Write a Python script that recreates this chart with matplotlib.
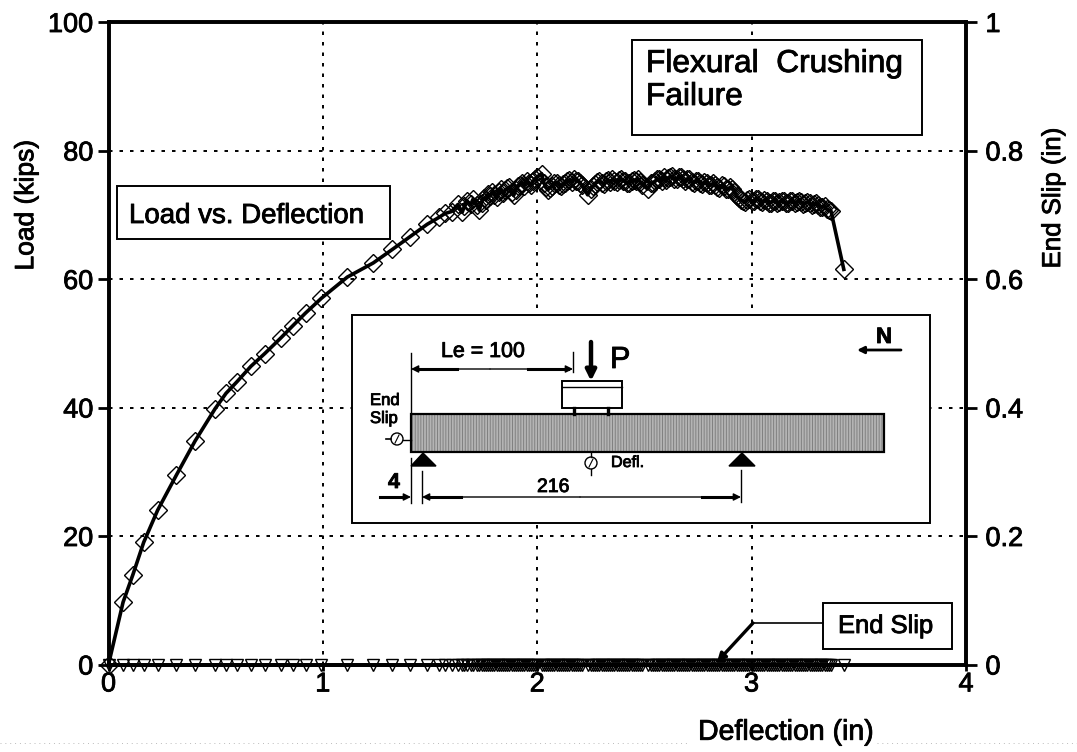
import matplotlib
matplotlib.use("Agg")
import matplotlib.pyplot as plt
import matplotlib.patheffects as pe
from matplotlib.patches import Rectangle, Circle, Polygon
from matplotlib.text import Text

plt.rcParams["font.family"] = ["Liberation Sans", "DejaVu Sans"]
plt.rcParams["hatch.linewidth"] = 0.7

# values
deflection = [0, .068, .114, .164, .229, .317, .404, .497, .548, .599, .664, .729, .803, .859, .919, .993,
              1.114, 1.235, 1.324, 1.407, 1.486, 1.542, 1.57, 1.60, 1.63, 1.65, 1.66, 1.67, 1.69, 1.70, 1.72,
              1.73, 1.74, 1.75, 1.76, 1.77, 1.78, 1.79, 1.80, 1.81, 1.82, 1.83, 1.84, 1.85, 1.86, 1.87, 1.88,
              1.89, 1.90, 1.91, 1.92, 1.93, 1.94, 1.95, 1.96, 1.97, 1.98, 1.99, 2.00, 2.02, 2.03, 2.04, 2.05,
              2.06, 2.07, 2.08, 2.09, 2.10, 2.11, 2.12, 2.13, 2.14, 2.15, 2.16, 2.17, 2.18, 2.19, 2.20, 2.21,
              2.235, 2.25, 2.26, 2.27, 2.28, 2.29, 2.30, 2.31, 2.32, 2.33, 2.34, 2.35, 2.36, 2.37, 2.38, 2.39,
              2.40, 2.41, 2.42, 2.43, 2.44, 2.45, 2.46, 2.47, 2.48, 2.49, 2.515, 2.53, 2.54, 2.55, 2.56, 2.57,
              2.58, 2.59, 2.60, 2.61, 2.62, 2.63, 2.64, 2.65, 2.66, 2.67, 2.68, 2.69, 2.70, 2.71, 2.72, 2.73,
              2.74, 2.75, 2.76, 2.77, 2.78, 2.79, 2.80, 2.81, 2.82, 2.83, 2.84, 2.85, 2.86, 2.87, 2.88, 2.89,
              2.90, 2.91, 2.92, 2.93, 2.94, 2.95, 2.96, 2.97, 2.98, 2.99, 3.00, 3.01, 3.02, 3.03, 3.04, 3.05,
              3.06, 3.07, 3.08, 3.09, 3.10, 3.11, 3.12, 3.13, 3.14, 3.15, 3.16, 3.17, 3.18, 3.19, 3.20, 3.21,
              3.22, 3.23, 3.24, 3.25, 3.26, 3.27, 3.28, 3.29, 3.30, 3.31, 3.32, 3.33, 3.34, 3.35, 3.36, 3.37,
              3.43]
load = [0, 9.7, 14, 19, 24, 29.5, 34.8, 39.8, 42.2, 44, 46.4, 48.4, 50.8, 52.7, 54.7, 57,
        60.3, 62.5, 64.6, 66.6, 68.5, 69.6, 70.2, 70.5, 71.6, 70.4, 71.3, 72.2, 71.6, 72.4, 71.5,
        70.7, 71.9, 72.6, 72.3, 73.2, 72.9, 73.6, 73.1, 72.8, 73.5, 74, 73.4, 73.8, 74.1, 74.3, 73.6,
        73.0, 73.9, 74.4, 74.7, 75, 74.5, 75.3, 74.9, 74.6, 75.2, 75.6, 75.9, 76.4, 75, 74.3, 73.9,
        74.2, 74.5, 74.9, 75, 74.7, 74.4, 74.8, 75, 75.2, 75.4, 75.1, 75.6, 75.3, 75.2, 74.9, 74.6,
        73.1, 74, 74.4, 74.8, 75.1, 75.3, 75, 74.8, 75.2, 75.4, 75.1, 75.5, 75.3, 75.1, 75.4, 75.6,
        75.3, 75.2, 74.9, 75.0, 75.3, 75.4, 75.2, 75.6, 75.1, 74.7, 74, 74.9, 75, 75.2, 75.5, 75.6,
        75.3, 75.8, 75.4, 75.7, 75.9, 76, 75.5, 75.6, 75.8, 75.9, 75.5, 75.3, 75.6, 75.5, 75.1, 75,
        75.3, 75.2, 74.9, 74.8, 75.1, 74.9, 74.6, 74.6, 74.9, 74.7, 74.3, 74.2, 74.6, 74.4, 74.0, 74,
        74.3, 74, 73.6, 72.9, 72.6, 72.3, 72.1, 72, 72.3, 72.5, 72.2, 72.2, 72.5, 72.4, 72.1, 72,
        72.3, 72.2, 71.9, 71.9, 72.1, 72.2, 71.9, 72, 72.2, 72.1, 71.8, 71.9, 72.1, 72.2, 71.9, 72,
        72.2, 72, 71.7, 71.8, 72, 71.9, 71.5, 71.6, 71.8, 71.5, 71.2, 71.2, 71.3, 70.9, 70.7, 70.6,
        61.5]
end_slip = [0.0] * len(deflection)

x_ticks = [0, 1, 2, 3, 4]
load_ticks = [0, 20, 40, 60, 80, 100]
slip_ticks = [0, 0.2, 0.4, 0.6, 0.8, 1]
slip_labels = ["0", "0.2", "0.4", "0.6", "0.8", "1"]

W, H = 1077, 752
fig = plt.figure(figsize=(W / 100, H / 100), dpi=100)
ax = fig.add_axes([108.5 / W, 1 - 664.5 / H, (966 - 108.5) / W, (664.5 - 22) / H])

grid_style = dict(color="black", linewidth=1.4, linestyle=(0, (1.8, 3.6)))
ax.set_xlim(0, 4)
ax.set_ylim(0, 100)
ax.set_xticks(x_ticks)
ax.set_yticks(load_ticks)
ax.grid(True, **grid_style)
ax.tick_params(axis="y", direction="out", length=8, width=2, labelsize=19.5, pad=3)
ax.tick_params(axis="x", direction="out", length=4, width=2, labelsize=19.5, pad=1)
for spine in ax.spines.values():
    spine.set_linewidth(2.6)
ax.plot(deflection, load, color="black", linewidth=2.6, marker="D", markersize=9, markerfacecolor="none",
        markeredgecolor="black", markeredgewidth=1.0, clip_on=False, zorder=4)
ax.set_ylabel("Load (kips)", fontsize=19)
ax.yaxis.set_label_coords(-0.082, 0.715)
ax.set_xlabel("Deflection (in)", fontsize=20.5)
ax.xaxis.set_label_coords(0.79, -0.086)

ax2 = ax.twinx()
ax2.set_ylim(0, 1)
ax2.set_yticks(slip_ticks)
ax2.set_yticklabels(slip_labels)
ax2.tick_params(axis="y", direction="out", length=8, width=2, labelsize=19.5, pad=6)
for spine in ax2.spines.values():
    spine.set_linewidth(2.6)
ax2.plot(deflection, end_slip, color="black", linewidth=2.6, marker="v", markersize=9, markerfacecolor="none",
         markeredgecolor="black", markeredgewidth=1.0, clip_on=False, zorder=4)
ax2.set_ylabel("End Slip (in)", fontsize=18.6)
ax2.yaxis.set_label_coords(1.0875, 0.726)

# overlay in pixel coords for the boxes and beam sketch
ov = fig.add_axes([0, 0, 1, 1], zorder=10)
ov.set_xlim(0, W)
ov.set_ylim(H, 0)
ov.axis("off")
ov.patch.set_alpha(0)


def box(x0, y0, x1, y1, lw=1.4):
    ov.add_patch(Rectangle((x0, y0), x1 - x0, y1 - y0, facecolor="white", edgecolor="black", linewidth=lw))


def dim_arrow(x0, x1, y):
    # thin line with a head at x1
    ov.annotate("", xy=(x1, y), xytext=(x0, y),
                arrowprops=dict(arrowstyle="-|>", color="black", lw=1.0, mutation_scale=11, shrinkA=0, shrinkB=0))


box(632, 40, 922, 135)
ov.text(646, 72, "Flexural  Crushing", fontsize=22.8, va="baseline")
ov.text(646, 105, "Failure", fontsize=22.8, va="baseline")

box(117, 186, 390, 239)
ov.text(129, 223, "Load vs. Deflection", fontsize=19.9, va="baseline")

box(823, 603, 952, 649)
ov.text(838, 633, "End Slip", fontsize=18.4, va="baseline")
ov.plot([823, 753], [623, 623], color="black", lw=1.2)
ov.annotate("", xy=(717, 662), xytext=(753, 623),
            arrowprops=dict(arrowstyle="-|>", color="black", lw=2.4, mutation_scale=12, shrinkA=0, shrinkB=0))

# beam sketch
box(352, 315, 930, 523)
ov.add_patch(Rectangle((411, 414), 473, 38, facecolor="#b4b4b4", edgecolor="#808080", hatch="||||||", linewidth=0))
ov.add_patch(Rectangle((411, 414), 473, 38, facecolor="none", edgecolor="black", linewidth=1.6))
box(562, 381, 622, 408)
ov.plot([562, 622], [387, 387], color="black", lw=1.0)
ov.plot([574, 574], [408, 414], color="black", lw=2.4)
ov.plot([608, 608], [408, 414], color="black", lw=2.4)
ov.annotate("", xy=(591, 381), xytext=(591, 342),
            arrowprops=dict(arrowstyle="-|>", color="black", lw=3.2, mutation_scale=15, shrinkA=0, shrinkB=0))
ov.text(610, 368, "P", fontsize=22, va="baseline")
ov.text(441, 357, "Le = 100", fontsize=15.4, va="baseline")

ov.plot([411, 411], [353, 414], color="black", lw=1.0)
ov.plot([573, 573], [352, 372], color="black", lw=1.0)
dim_arrow(490, 411, 369)
dim_arrow(490, 573, 369)
ov.plot([417, 457], [369, 369], color="black", lw=2.2)
ov.plot([528, 568], [369, 369], color="black", lw=2.2)

ov.text(370, 405, "End", fontsize=12, va="baseline")
ov.text(370, 423, "Slip", fontsize=12, va="baseline")
ov.plot([386, 391], [439, 439], color="black", lw=1.2)
ov.plot([403, 411], [440, 440], color="black", lw=1.0)
ov.add_patch(Circle((397, 439), 6, facecolor="white", edgecolor="black", linewidth=1.0))
ov.plot([395, 399], [443, 435], color="black", lw=0.8)

ov.add_patch(Polygon([(411, 466), (423, 453), (436, 466)], facecolor="black", edgecolor="black"))
ov.add_patch(Polygon([(729, 466), (742, 453), (755, 466)], facecolor="black", edgecolor="black"))

ov.plot([591, 591], [452, 457], color="black", lw=1.0)
ov.plot([591, 591], [469, 475], color="black", lw=1.0)
ov.add_patch(Circle((591, 463), 6, facecolor="white", edgecolor="black", linewidth=1.0))
ov.plot([589, 593], [467, 459], color="black", lw=0.8)
ov.text(611, 467, "Defl.", fontsize=11.6, va="baseline")

ov.plot([411, 411], [458, 503], color="black", lw=1.0)
ov.plot([422, 422], [471, 503], color="black", lw=1.0)
ov.plot([741, 741], [470, 502], color="black", lw=1.0)
ov.text(388, 488, "4", fontsize=15.4, fontweight="bold", va="baseline")
dim_arrow(380, 411, 497)
ov.plot([380, 405], [497, 497], color="black", lw=2.2)
ov.text(537, 492, "216", fontsize=14, va="baseline")
dim_arrow(580, 422, 497)
dim_arrow(580, 741, 497)
ov.plot([428, 461], [497, 497], color="black", lw=2.2)
ov.plot([702, 735], [497, 497], color="black", lw=2.2)

ov.text(876, 343, "N", fontsize=16, fontweight="bold", va="baseline")
ov.annotate("", xy=(857, 350), xytext=(901, 350),
            arrowprops=dict(arrowstyle="-|>", color="black", lw=2.0, mutation_scale=10, shrinkA=0, shrinkB=0))

# faint dotted scan edge at the bottom
ov.plot([0, 690], [743, 743], color="#bbbbbb", lw=0.7, linestyle=(0, (1, 4)))
ov.plot([877, 1077], [743, 743], color="#bbbbbb", lw=0.7, linestyle=(0, (1, 4)))

# the scan makes all lettering look a bit heavier
for t in fig.findobj(Text):
    t.set_path_effects([pe.withStroke(linewidth=0.6, foreground="black")])

fig.savefig("out.png", dpi=100)
